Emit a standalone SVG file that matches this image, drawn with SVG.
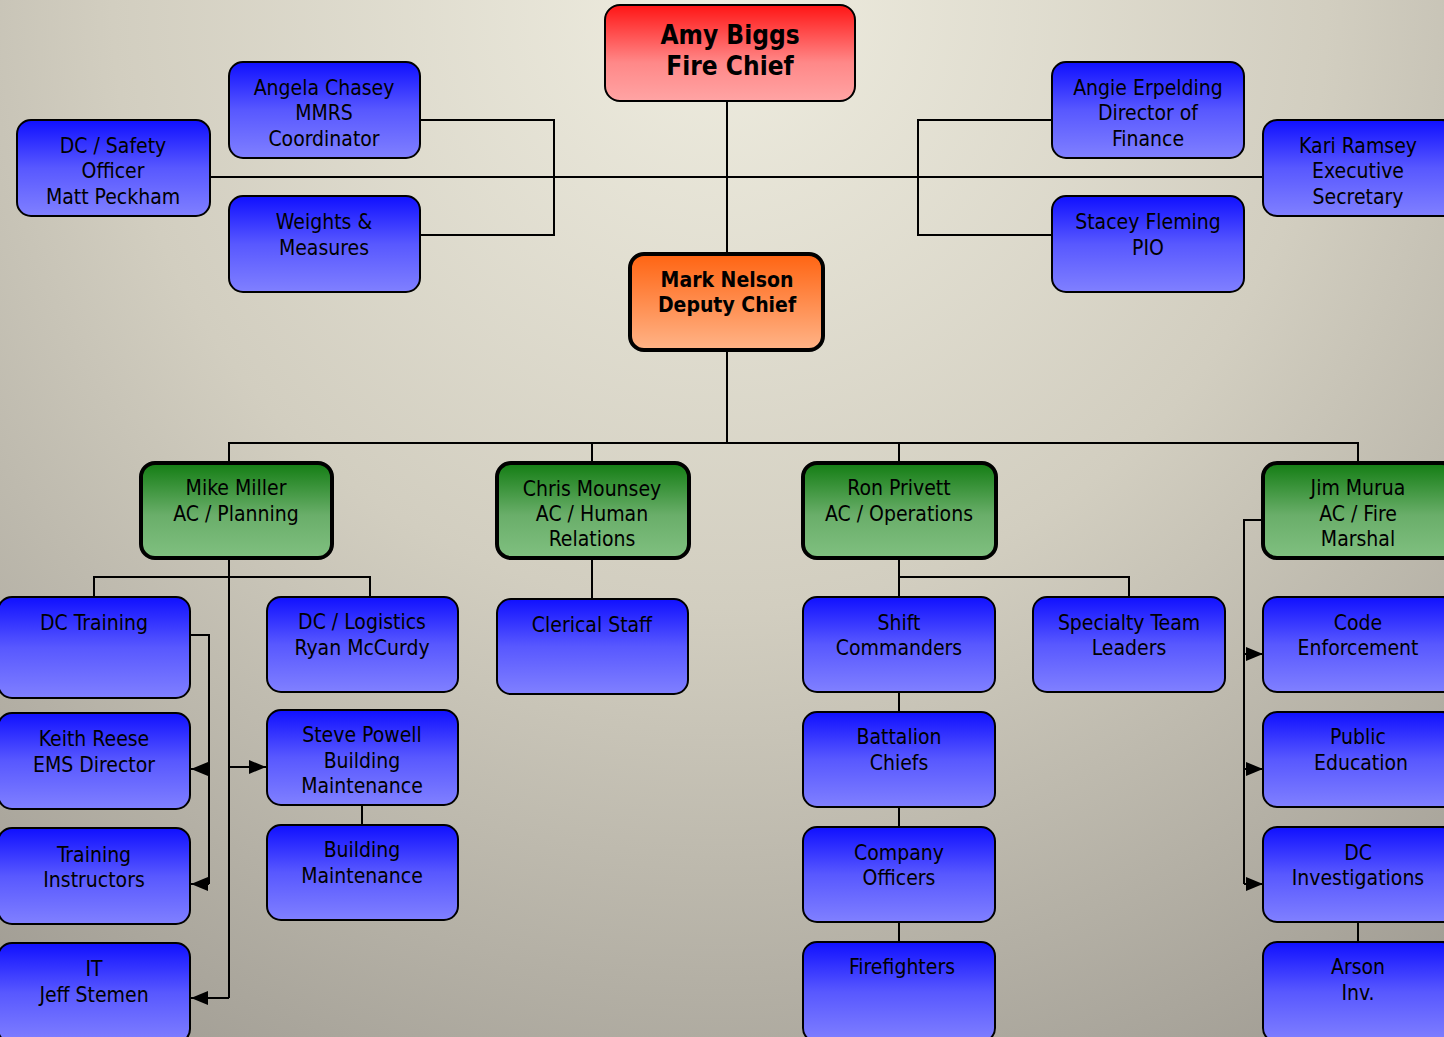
<svg xmlns="http://www.w3.org/2000/svg" width="1444" height="1037" viewBox="0 0 1444 1037">
<defs>
<radialGradient id="bg" cx="720" cy="0" r="1350" gradientUnits="userSpaceOnUse">
<stop offset="0" stop-color="#efede0"/>
<stop offset="0.45" stop-color="#d2cec0"/>
<stop offset="1" stop-color="#96928a"/>
</radialGradient>
<linearGradient id="blue" x1="0" y1="0" x2="0" y2="1">
<stop offset="0" stop-color="#1010ff"/>
<stop offset="0.5" stop-color="#5858ff"/>
<stop offset="1" stop-color="#8080ff"/>
</linearGradient>
<linearGradient id="green" x1="0" y1="0" x2="0" y2="1">
<stop offset="0" stop-color="#137d13"/>
<stop offset="0.55" stop-color="#6aae6a"/>
<stop offset="1" stop-color="#80c080"/>
</linearGradient>
<linearGradient id="red" x1="0" y1="0" x2="0" y2="1">
<stop offset="0" stop-color="#ff1515"/>
<stop offset="0.6" stop-color="#ff8888"/>
<stop offset="1" stop-color="#ffa4a4"/>
</linearGradient>
<linearGradient id="orange" x1="0" y1="0" x2="0" y2="1">
<stop offset="0" stop-color="#ff6412"/>
<stop offset="1" stop-color="#ffb488"/>
</linearGradient>
<marker id="arr" markerUnits="userSpaceOnUse" markerWidth="17" markerHeight="14" refX="17" refY="7" orient="auto">
<path d="M0,0 L17,7 L0,14 Z" fill="#000"/>
</marker>
<style>
.n{stroke:#000;stroke-width:2}
.b{fill:url(#blue)}
.g{fill:url(#green);stroke-width:4}
.o{fill:url(#orange);stroke-width:4}
.c{fill:none;stroke:#000;stroke-width:2}
text{font-family:"DejaVu Sans Condensed","DejaVu Sans",sans-serif;font-stretch:condensed;font-size:21px;fill:#000;text-anchor:middle}
.t{font-weight:bold;font-size:26px}
.d{font-weight:bold;font-size:21px}
</style>
</defs>
<rect x="0" y="0" width="1444" height="1037" fill="url(#bg)"/>

<g id="connectors">
<path class="c" d="M727,101 V253"/>
<path class="c" d="M210,177 H1263"/>
<path class="c" d="M420,120 H554 V235 H420"/>
<path class="c" d="M1052,120 H918 V235 H1052"/>
<path class="c" d="M727,350 V443"/>
<path class="c" d="M229,462 V443 H1358 V462"/>
<path class="c" d="M592,443 V462"/>
<path class="c" d="M899,443 V462"/>
<path class="c" d="M229,558 V998"/>
<path class="c" d="M94,597 V577 H370 V597"/>
<path class="c" d="M190,635 H209 V884"/>
<path class="c" d="M209,769 H191" marker-end="url(#arr)"/>
<path class="c" d="M209,884 H191" marker-end="url(#arr)"/>
<path class="c" d="M229,998 H191" marker-end="url(#arr)"/>
<path class="c" d="M229,767 H266" marker-end="url(#arr)"/>
<path class="c" d="M362,805 V825"/>
<path class="c" d="M592,558 V599"/>
<path class="c" d="M899,558 V597"/>
<path class="c" d="M899,577 H1129 V597"/>
<path class="c" d="M899,692 V712"/>
<path class="c" d="M899,807 V827"/>
<path class="c" d="M899,922 V942"/>
<path class="c" d="M1263,520 H1244 V884"/>
<path class="c" d="M1244,654 H1263" marker-end="url(#arr)"/>
<path class="c" d="M1244,769 H1263" marker-end="url(#arr)"/>
<path class="c" d="M1244,884 H1263" marker-end="url(#arr)"/>
<path class="c" d="M1358,922 V942"/>
</g>

<g id="amy"><rect class="n" x="605" y="5" width="250" height="96" rx="15" fill="url(#red)"/>
<text class="t" x="730" y="44">Amy Biggs</text><text class="t" x="730" y="75">Fire Chief</text></g>
<g id="mark"><rect class="n o" x="630" y="254" width="193" height="96" rx="14"/>
<text class="d" x="727" y="287">Mark Nelson</text><text class="d" x="727" y="312">Deputy Chief</text></g>

<g id="angela"><rect class="n b" x="229" y="62" width="191" height="96" rx="14"/>
<text x="324" y="95">Angela Chasey</text><text x="324" y="120">MMRS</text><text x="324" y="146">Coordinator</text></g>
<g id="dcsafety"><rect class="n b" x="17" y="120" width="193" height="96" rx="14"/>
<text x="113" y="153">DC / Safety</text><text x="113" y="178">Officer</text><text x="113" y="204">Matt Peckham</text></g>
<g id="weights"><rect class="n b" x="229" y="196" width="191" height="96" rx="14"/>
<text x="324" y="229">Weights &amp;</text><text x="324" y="255">Measures</text></g>
<g id="angie"><rect class="n b" x="1052" y="62" width="192" height="96" rx="14"/>
<text x="1148" y="95">Angie Erpelding</text><text x="1148" y="120">Director of</text><text x="1148" y="146">Finance</text></g>
<g id="kari"><rect class="n b" x="1263" y="120" width="193" height="96" rx="14"/>
<text x="1358" y="153">Kari Ramsey</text><text x="1358" y="178">Executive</text><text x="1358" y="204">Secretary</text></g>
<g id="stacey"><rect class="n b" x="1052" y="196" width="192" height="96" rx="14"/>
<text x="1148" y="229">Stacey Fleming</text><text x="1148" y="255">PIO</text></g>

<g id="mike"><rect class="n g" x="141" y="463" width="191" height="95" rx="14"/>
<text x="236" y="495">Mike Miller</text><text x="236" y="521">AC / Planning</text></g>
<g id="chris"><rect class="n g" x="497" y="463" width="192" height="95" rx="14"/>
<text x="592" y="496">Chris Mounsey</text><text x="592" y="521">AC / Human</text><text x="592" y="546">Relations</text></g>
<g id="ron"><rect class="n g" x="803" y="463" width="193" height="95" rx="14"/>
<text x="899" y="495">Ron Privett</text><text x="899" y="521">AC / Operations</text></g>
<g id="jim"><rect class="n g" x="1263" y="463" width="193" height="95" rx="14"/>
<text x="1358" y="495">Jim Murua</text><text x="1358" y="521">AC / Fire</text><text x="1358" y="546">Marshal</text></g>

<g id="dctraining"><rect class="n b" x="-2" y="597" width="192" height="101" rx="14"/>
<text x="94" y="630">DC Training</text></g>
<g id="keith"><rect class="n b" x="-2" y="713" width="192" height="96" rx="14"/>
<text x="94" y="746">Keith Reese</text><text x="94" y="772">EMS Director</text></g>
<g id="instructors"><rect class="n b" x="-2" y="828" width="192" height="96" rx="14"/>
<text x="94" y="862">Training</text><text x="94" y="887">Instructors</text></g>
<g id="it"><rect class="n b" x="-2" y="943" width="192" height="100" rx="14"/>
<text x="94" y="976">IT</text><text x="94" y="1002">Jeff Stemen</text></g>
<g id="logistics"><rect class="n b" x="267" y="597" width="191" height="95" rx="14"/>
<text x="362" y="629">DC / Logistics</text><text x="362" y="655">Ryan McCurdy</text></g>
<g id="steve"><rect class="n b" x="267" y="710" width="191" height="95" rx="14"/>
<text x="362" y="742">Steve Powell</text><text x="362" y="768">Building</text><text x="362" y="793">Maintenance</text></g>
<g id="buildmaint"><rect class="n b" x="267" y="825" width="191" height="95" rx="14"/>
<text x="362" y="857">Building</text><text x="362" y="883">Maintenance</text></g>
<g id="clerical"><rect class="n b" x="497" y="599" width="191" height="95" rx="14"/>
<text x="592" y="632">Clerical Staff</text></g>

<g id="shift"><rect class="n b" x="803" y="597" width="192" height="95" rx="14"/>
<text x="899" y="630">Shift</text><text x="899" y="655">Commanders</text></g>
<g id="specialty"><rect class="n b" x="1033" y="597" width="192" height="95" rx="14"/>
<text x="1129" y="630">Specialty Team</text><text x="1129" y="655">Leaders</text></g>
<g id="battalion"><rect class="n b" x="803" y="712" width="192" height="95" rx="14"/>
<text x="899" y="744">Battalion</text><text x="899" y="770">Chiefs</text></g>
<g id="company"><rect class="n b" x="803" y="827" width="192" height="95" rx="14"/>
<text x="899" y="860">Company</text><text x="899" y="885">Officers</text></g>
<g id="firefighters"><rect class="n b" x="803" y="942" width="192" height="100" rx="14"/>
<text x="902" y="974">Firefighters</text></g>

<g id="code"><rect class="n b" x="1263" y="597" width="193" height="95" rx="14"/>
<text x="1358" y="630">Code</text><text x="1358" y="655">Enforcement</text></g>
<g id="public"><rect class="n b" x="1263" y="712" width="193" height="95" rx="14"/>
<text x="1358" y="744">Public</text><text x="1361" y="770">Education</text></g>
<g id="dcinv"><rect class="n b" x="1263" y="827" width="193" height="95" rx="14"/>
<text x="1358" y="860">DC</text><text x="1358" y="885">Investigations</text></g>
<g id="arson"><rect class="n b" x="1263" y="942" width="193" height="100" rx="14"/>
<text x="1358" y="974">Arson</text><text x="1358" y="1000">Inv.</text></g>
</svg>
